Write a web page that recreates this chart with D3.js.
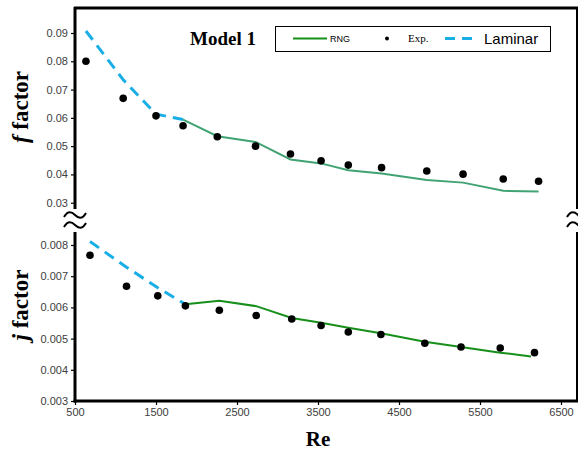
<!DOCTYPE html>
<html><head><meta charset="utf-8">
<script src="https://cdn.jsdelivr.net/npm/d3@7/dist/d3.min.js"></script>
<style>html,body{margin:0;padding:0;background:#fff;overflow:hidden}</style>
</head><body>
<svg id="c" width="578" height="450"></svg>
<script>
// ---- data ----
const reExpF = [635, 1095, 1500, 1834, 2257, 2729, 3160, 3538, 3874, 4285, 4843, 5291, 5787, 6223];
const fExp   = [0.0800, 0.0669, 0.0607, 0.0572, 0.0533, 0.0500, 0.0472, 0.0448, 0.0433, 0.0424, 0.0412, 0.0401, 0.0384, 0.0376];
const reRngF = [1834, 2257, 2729, 3160, 3538, 3874, 4285, 4843, 5291, 5787, 6223];
const fRng   = [0.0594, 0.0535, 0.0515, 0.0453, 0.0439, 0.0415, 0.0403, 0.0380, 0.0371, 0.0342, 0.0340];
const reLamF = [635, 1095, 1500, 1834];
const fLam   = [0.0907, 0.0735, 0.0613, 0.0594];

const reExpJ = [685, 1136, 1522, 1863, 2282, 2737, 3176, 3538, 3874, 4277, 4819, 5266, 5750, 6173];
const jExp   = [0.00767, 0.00668, 0.00637, 0.00605, 0.00591, 0.00574, 0.00563, 0.00542, 0.00521, 0.00513, 0.00485, 0.00473, 0.00470, 0.00455];
const reRngJ = [1863, 2282, 2737, 3176, 3538, 3874, 4277, 4819, 5266, 5750, 6130];
const jRng   = [0.00610, 0.00621, 0.00604, 0.00566, 0.00551, 0.00535, 0.00517, 0.00490, 0.00473, 0.00455, 0.00443];
const reLamJ = [685, 1136, 1522, 1863];
const jLam   = [0.00811, 0.00729, 0.00663, 0.00610];

const xTicks = [500, 1500, 2500, 3500, 4500, 5500, 6500];
const fTicks = [0.03, 0.04, 0.05, 0.06, 0.07, 0.08, 0.09];
const jTicks = [0.003, 0.004, 0.005, 0.006, 0.007, 0.008];
const fTickLabels = ["0.03","0.04","0.05","0.06","0.07","0.08","0.09"];
const jTickLabels = ["0.003","0.004","0.005","0.006","0.007","0.008"];

// ---- layout ----
const svg = d3.select("#c");
const L = 75, R = 577, T = 8, B = 401;
const x = d3.scaleLinear().domain([500, 6500]).range([L, 561]);
const yF = d3.scaleLinear().domain([0.03, 0.09]).range([202.7, 33]);
const yJ = d3.scaleLinear().domain([0.003, 0.008]).range([B, 245]);

const tickCol = "#404040";
const sans = "Arial, 'Liberation Sans', sans-serif";
const serif = "'Times New Roman', 'Liberation Serif', serif";

// frame
svg.append("line").attr("x1", L-1).attr("x2", R+1).attr("y1", T).attr("y2", T).attr("stroke", "#000").attr("stroke-width", 3);
svg.append("line").attr("x1", R).attr("x2", R).attr("y1", T).attr("y2", B).attr("stroke", "#000").attr("stroke-width", 2);

// axes
const gyF = svg.append("g").attr("transform", `translate(${L},0)`)
  .call(d3.axisLeft(yF).tickValues(fTicks).tickFormat((d,i)=>fTickLabels[i]).tickSize(4).tickPadding(3));
const gyJ = svg.append("g").attr("transform", `translate(${L},0)`)
  .call(d3.axisLeft(yJ).tickValues(jTicks).tickFormat((d,i)=>jTickLabels[i]).tickSize(4).tickPadding(3));
const gx = svg.append("g").attr("transform", `translate(0,${B})`)
  .call(d3.axisBottom(x).tickValues(xTicks).tickFormat(d3.format("d")).tickSize(4).tickPadding(3));
[gyF, gyJ, gx].forEach(g => {
  g.select(".domain").remove();
  g.selectAll(".tick line").attr("stroke", "#000").attr("stroke-width", 1.2);
  g.selectAll(".tick text").attr("fill", tickCol).style("font-family", sans).style("font-size", "11px");
});
// axis lines
svg.append("line").attr("x1", L).attr("x2", L).attr("y1", T-1).attr("y2", B+1.5).attr("stroke", "#000").attr("stroke-width", 3);
svg.append("line").attr("x1", L-1.5).attr("x2", R+1).attr("y1", B).attr("y2", B).attr("stroke", "#000").attr("stroke-width", 3);

// break symbols
function brk(cx) {
  const g = svg.append("g");
  g.append("rect").attr("x", cx-12).attr("y", 209).attr("width", 24).attr("height", 23).attr("fill", "#fff");
  [215, 225].forEach(yy => {
    g.append("path")
      .attr("d", `M${cx-11},${yy+2} C${cx-7},${yy-5} ${cx-3},${yy-3} ${cx},${yy} S${cx+7},${yy+5} ${cx+11},${yy-2}`)
      .attr("fill", "none").attr("stroke", "#000").attr("stroke-width", 2);
  });
}
brk(L);
brk(R + 1);

// series
const lineF = d3.line().x(d => x(d[0])).y(d => yF(d[1]));
const lineJ = d3.line().x(d => x(d[0])).y(d => yJ(d[1]));
const blue = "#1aaee6";

svg.append("path").datum(d3.zip(reLamF, fLam)).attr("d", lineF)
  .attr("fill", "none").attr("stroke", blue).attr("stroke-width", 3).attr("stroke-dasharray", "11,7");
svg.append("path").datum(d3.zip(reRngF, fRng)).attr("d", lineF)
  .attr("fill", "none").attr("stroke", "#41a374").attr("stroke-width", 2);
svg.append("g").selectAll("circle").data(d3.zip(reExpF, fExp)).join("circle")
  .attr("cx", d => x(d[0])).attr("cy", d => yF(d[1])).attr("r", 3.8).attr("fill", "#000");

svg.append("path").datum(d3.zip(reLamJ, jLam)).attr("d", lineJ)
  .attr("fill", "none").attr("stroke", blue).attr("stroke-width", 3).attr("stroke-dasharray", "11,7");
svg.append("path").datum(d3.zip(reRngJ, jRng)).attr("d", lineJ)
  .attr("fill", "none").attr("stroke", "#16901a").attr("stroke-width", 2);
svg.append("g").selectAll("circle").data(d3.zip(reExpJ, jExp)).join("circle")
  .attr("cx", d => x(d[0])).attr("cy", d => yJ(d[1])).attr("r", 3.8).attr("fill", "#000");

// axis titles
const ft = svg.append("text").attr("transform", "translate(28,107) rotate(-90)")
  .attr("text-anchor", "middle").style("font-family", serif).style("font-size", "23px").style("font-weight", "bold");
ft.append("tspan").style("font-style", "italic").text("f");
ft.append("tspan").text(" factor");
const jt = svg.append("text").attr("transform", "translate(28,305) rotate(-90)")
  .attr("text-anchor", "middle").style("font-family", serif).style("font-size", "23px").style("font-weight", "bold");
jt.append("tspan").style("font-style", "italic").text("j");
jt.append("tspan").text(" factor");
svg.append("text").attr("x", 318).attr("y", 446).attr("text-anchor", "middle")
  .style("font-family", serif).style("font-size", "21px").style("font-weight", "bold").text("Re");

// Model label
svg.append("text").attr("x", 190).attr("y", 45).style("font-family", serif)
  .style("font-size", "19px").style("font-weight", "bold").text("Model 1");

// legend
const lg = svg.append("g");
lg.append("rect").attr("x", 275.5).attr("y", 26.5).attr("width", 275).attr("height", 25)
  .attr("fill", "#fff").attr("stroke", "#000").attr("stroke-width", 1);
lg.append("line").attr("x1", 293).attr("x2", 327).attr("y1", 38.5).attr("y2", 38.5).attr("stroke", "#16901a").attr("stroke-width", 2);
lg.append("text").attr("x", 330).attr("y", 42).style("font-family", sans).style("font-size", "9px").text("RNG");
lg.append("circle").attr("cx", 387).attr("cy", 38.5).attr("r", 2).attr("fill", "#000");
lg.append("text").attr("x", 408).attr("y", 42).style("font-family", serif).style("font-size", "11px").text("Exp.");
lg.append("line").attr("x1", 445).attr("x2", 479).attr("y1", 38.5).attr("y2", 38.5).attr("stroke", blue)
  .attr("stroke-width", 3).attr("stroke-dasharray", "10,7");
lg.append("text").attr("x", 484).attr("y", 43.5).style("font-family", sans).style("font-size", "15px").text("Laminar");
</script>
</body></html>
